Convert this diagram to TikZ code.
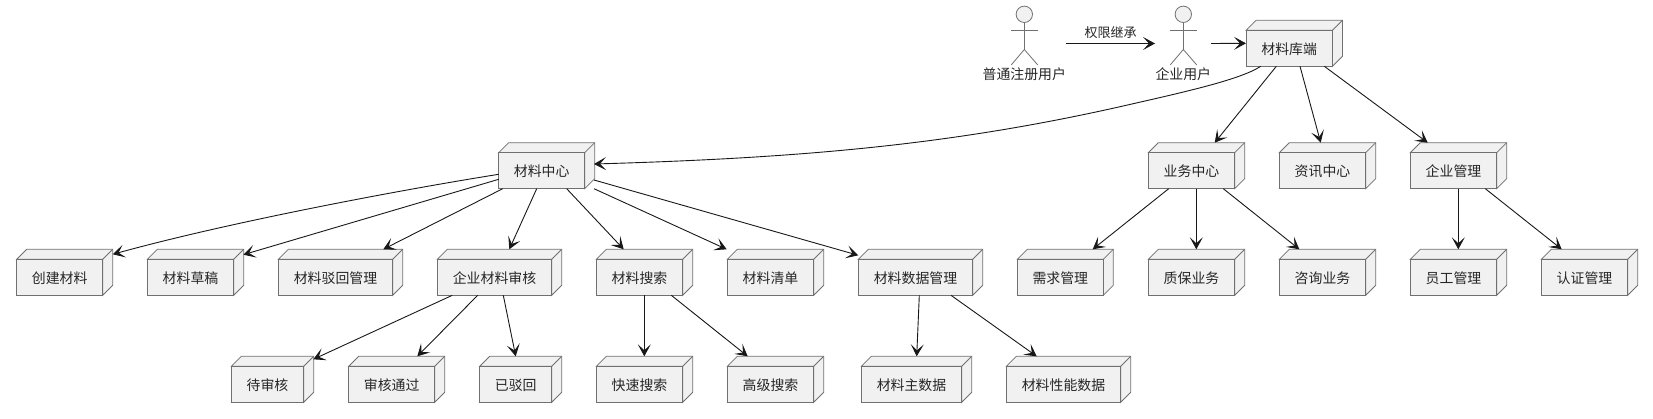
\documentclass[tikz,border=0pt]{standalone}
\usepackage{fontspec}
\setmainfont{Noto Sans CJK SC}
\usetikzlibrary{arrows.meta}
\definecolor{boxfill}{HTML}{F1F1F1}
\definecolor{inkline}{HTML}{181818}
\definecolor{softline}{HTML}{707070}
\tikzset{
  bxn/.style={draw=softline,line width=0.8pt,fill=boxfill,anchor=north west,minimum height=36pt,inner sep=0pt,outer sep=0pt,font=\fontsize{13.9pt}{15pt}\selectfont,text=black!85,text depth=1.5pt,text height=13pt},
  bxback/.style={draw=softline,line width=0.8pt,fill=boxfill,line join=miter},
  arr/.style={draw=inkline,line width=0.9pt,-{Stealth[length=12pt,width=13pt,inset=6pt]}},
  figline/.style={draw=softline,line width=0.8pt},
  headn/.style={circle,draw=softline,line width=0.8pt,fill=boxfill,minimum size=16.4pt,inner sep=0pt,outer sep=0pt},
  capn/.style={inner sep=0pt,font=\fontsize{13.9pt}{15pt}\selectfont,text=black!85},
  edgelab/.style={inner sep=0pt,font=\fontsize{13pt}{15pt}\selectfont,text=black!85}
}
\newcommand\bx[5]{%
  \path[bxback] (#2,#3) -- +(10,-10) -- +({#4+10},-10) -- +({#4+10},26) -- +(#4,36) -- +(#4,0) -- cycle;
  \node[bxn,minimum width=#4pt] (#1) at (#2,#3) {#5};
  \draw[bxback,fill=none] (#1.north east) -- +(10,-10);
}
\newcommand\lnk[6]{\draw[arr] ([shift={(#2,#3)}]#1.north west) -- ([shift={(#5,#6)}]#4.north west);}
\newcommand\actor[4]{%
  \node[headn] (#1) at (#2,14.3) {};
  \draw[figline] (#1.south) -- +(0,27);
  \draw[figline] ([shift={(-13,8)}]#1.south) -- +(26.4,0);
  \draw[figline] ([shift={(-13,42.4)}]#1.south) -- ([shift={(0,27)}]#1.south) -- ([shift={(13.4,42.4)}]#1.south);
  \node[capn] (#3) at (#2,74.5) {#4};
}
\begin{document}
\begin{tikzpicture}[x=1pt,y=-1pt]
\useasboundingbox (0,0) rectangle (1653,418);
\actor{ua}{1024.3}{uacap}{普通注册用户}
\actor{ub}{1183.3}{ubcap}{企业用户}
\bx{root}{1246}{30.3}{86.4}{材料库端}
\bx{cen}{498.7}{152.7}{86}{材料中心}
\bx{biz}{1148.3}{152.7}{86.4}{业务中心}
\bx{news}{1279.3}{152.7}{86.4}{资讯中心}
\bx{ent}{1410.3}{152.7}{86.4}{企业管理}
\bx{mk}{16.7}{259.3}{86}{创建材料}
\bx{md}{147.3}{259.3}{86.4}{材料草稿}
\bx{mr}{278.3}{259.3}{114.4}{材料驳回管理}
\bx{ma}{437.3}{259.3}{114.4}{企业材料审核}
\bx{ms}{596.3}{259.3}{86.4}{材料搜索}
\bx{ml}{727.3}{259.3}{86.4}{材料清单}
\bx{mg}{858.3}{259.3}{114.4}{材料数据管理}
\bx{bn}{1017.3}{259.3}{86}{需求管理}
\bx{bq}{1148.3}{259.3}{86.4}{质保业务}
\bx{bc}{1279.3}{259.3}{86.4}{咨询业务}
\bx{es}{1410.3}{259.3}{86.4}{员工管理}
\bx{ec}{1541.3}{259.3}{86.4}{认证管理}
\bx{aw}{231.3}{366.3}{72.4}{待审核}
\bx{ap}{348.7}{366.3}{86}{审核通过}
\bx{ab}{479.7}{366.3}{72}{已驳回}
\bx{sq}{596.3}{366.3}{86.4}{快速搜索}
\bx{sa}{727.3}{366.3}{86.4}{高级搜索}
\bx{gm}{861.3}{366.3}{100.4}{材料主数据}
\bx{gp}{1006.3}{366.3}{114.4}{材料性能数据}
% actor links
\draw[arr] ([shift={(41.7,21)}]ua.south) -- node[edgelab,above=4.5pt] (inh) {权限继承} ([shift={(-28.3,21)}]ub.south);
\draw[arr] ([shift={(27.7,21)}]ub.south) -- ([shift={(0,13)}]root.north west);
% root
\draw[arr] ([shift={(14.7,36)}]root.north west) .. controls (1240,80) and (1180,93) .. (1120,106.7) .. controls (950,145) and (800,158) .. ([shift={(95.3,11.3)}]cen.north west);
\lnk{root}{30.3}{36}{biz}{66.4}{-10}
\lnk{root}{54}{36}{news}{41.4}{-10}
\lnk{root}{78.3}{36}{ent}{17.4}{-10}
% centre
\draw[arr] ([shift={(0,21.6)}]cen.north west) .. controls (400,190) and (230,222) .. ([shift={(96,-5)}]mk.north west);
\lnk{cen}{0}{26.6}{md}{96}{-4.6}
\lnk{cen}{4}{36}{mr}{105}{-10}
\lnk{cen}{38}{36}{ma}{72}{-10}
\lnk{cen}{68}{36}{ms}{27.4}{-10}
\lnk{cen}{95.3}{36}{ml}{-0.6}{-10}
\lnk{cen}{95.3}{27.3}{mg}{0}{-4}
% business
\lnk{biz}{20.4}{36}{bn}{75.4}{-10}
\lnk{biz}{48}{36}{bq}{48}{-10}
\lnk{biz}{75}{36}{bc}{20}{-10}
% enterprise
\lnk{ent}{48}{36}{es}{48}{-10}
\lnk{ent}{75}{36}{ec}{20.4}{-10}
% audit
\lnk{ma}{15}{36}{aw}{82}{-7}
\lnk{ma}{40.4}{36}{ap}{68.6}{-10}
\lnk{ma}{66}{36}{ab}{36}{-10}
% search
\lnk{ms}{48}{36}{sq}{48}{-10}
\lnk{ms}{75}{36}{sa}{20.4}{-10}
% data
\lnk{mg}{61}{36}{gm}{55.4}{-10}
\lnk{mg}{92.7}{36}{gp}{30.4}{-10}
\end{tikzpicture}
\end{document}
